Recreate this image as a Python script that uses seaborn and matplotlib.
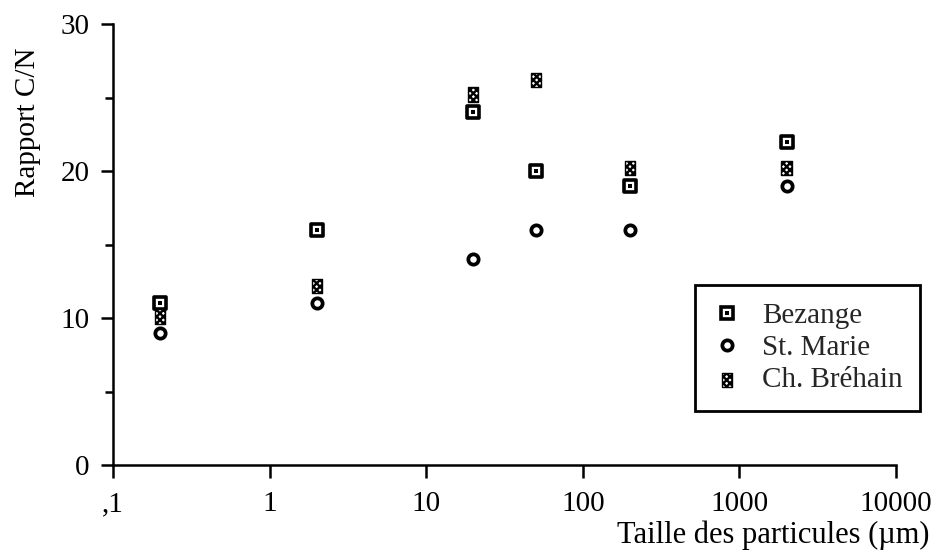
import matplotlib
matplotlib.use("Agg")
import matplotlib.pyplot as plt
import seaborn as sns
import pandas as pd
from matplotlib.path import Path
from matplotlib.legend_handler import HandlerTuple
from matplotlib.lines import Line2D

# ---- data ----
sizes = [0.2, 2, 20, 50, 200, 2000]
bezange = [11, 16, 24, 20, 19, 22]
st_marie = [9, 11, 14, 16, 16, 19]
brehain = [10.1, 12.2, 25.2, 26.2, 20.2, 20.2]
x_ticks = [0.1, 1, 10, 100, 1000, 10000]
x_ticklabels = [",1", "1", "10", "100", "1000", "10000"]
y_ticks = [0, 10, 20, 30]
y_minor = [5, 15, 25]

sns.set_style("ticks")
plt.rcParams['font.family'] = ['Liberation Serif', 'DejaVu Serif']
plt.rcParams['hatch.linewidth'] = 1.7
plt.rcParams['hatch.color'] = 'black'

FS = 21

df_b = pd.DataFrame({"x": sizes, "y": bezange})
df_m = pd.DataFrame({"x": sizes, "y": st_marie})
df_h = pd.DataFrame({"x": sizes, "y": brehain})

fig = plt.figure(figsize=(9.32, 5.5), dpi=100)
ax = fig.add_axes([113/932, 1-465/550, (896-113)/932, (465-24)/550])

# Bezange: open square with central dot
sns.scatterplot(data=df_b, x="x", y="y", ax=ax, marker="s", s=68,
                facecolor="white", edgecolor="black", linewidth=2.6, zorder=3)
sns.scatterplot(data=df_b, x="x", y="y", ax=ax, marker="s", s=7,
                color="black", linewidth=0, zorder=4)
# St. Marie: open circle
sns.scatterplot(data=df_m, x="x", y="y", ax=ax, marker="o", s=55,
                facecolor="white", edgecolor="black", linewidth=2.7, zorder=3)
# Ch. Bréhain: hatched tall rectangle
rect = Path([(-0.72, -1), (0.72, -1), (0.72, 1), (-0.72, 1), (-0.72, -1)],
            [Path.MOVETO, Path.LINETO, Path.LINETO, Path.LINETO, Path.CLOSEPOLY])
sns.scatterplot(data=df_h, x="x", y="y", ax=ax, marker=rect, s=105,
                facecolor="white", edgecolor="black", linewidth=1.0,
                hatch="xxxxx", zorder=3)

ax.set_xscale("log")
ax.set_xlim(0.1, 10000)
ax.set_ylim(0, 30)
ax.set_xticks(x_ticks)
ax.set_xticklabels(x_ticklabels)
ax.xaxis.set_minor_locator(matplotlib.ticker.NullLocator())
ax.set_yticks(y_ticks)
ax.set_yticks(y_minor, minor=True)

for side in ["top", "right"]:
    ax.spines[side].set_visible(False)
for side in ["left", "bottom"]:
    ax.spines[side].set_linewidth(1.8)
    ax.spines[side].set_color("black")

ax.tick_params(axis="both", which="major", labelsize=FS, width=1.8,
               length=9, color="black", labelcolor="black")
ax.tick_params(axis="y", which="minor", width=1.8, length=6, color="black")
ax.tick_params(axis="y", which="major", pad=8)
ax.tick_params(axis="x", which="major", pad=10)

ax.set_xlabel("Taille des particules (µm)", fontsize=22, color="black")
ax.xaxis.set_label_coords(1.043, -0.126)
ax.xaxis.label.set_horizontalalignment("right")
ax.xaxis.label.set_verticalalignment("top")
ax.set_ylabel("Rapport C/N", fontsize=FS, color="black")
ax.yaxis.set_label_coords(-0.092, 0.778)

# legend
h_b = (Line2D([], [], marker="s", markersize=8.2, markerfacecolor="white",
              markeredgecolor="black", markeredgewidth=2.6, linestyle="none"),
       Line2D([], [], marker="s", markersize=2.6, markerfacecolor="black",
              markeredgecolor="black", markeredgewidth=0, linestyle="none"))
h_m = Line2D([], [], marker="o", markersize=7.4, markerfacecolor="white",
             markeredgecolor="black", markeredgewidth=2.7, linestyle="none")
h_h = ax.collections[-1]
leg = fig.legend([h_b, h_m, h_h], ["Bezange", "St. Marie", "Ch. Bréhain"],
                 handler_map={tuple: HandlerTuple(ndivide=1, pad=0)},
                 loc="upper left", bbox_to_anchor=(695/932, 1-285/550),
                 fontsize=FS, frameon=True, fancybox=False, framealpha=1,
                 edgecolor="black", borderpad=0.6, labelspacing=0.2,
                 handlelength=1.0, handletextpad=0.7, borderaxespad=0,
                 scatterpoints=1)
leg.get_frame().set_linewidth(2.0)

fig.savefig("out.png", dpi=100, facecolor="white")
